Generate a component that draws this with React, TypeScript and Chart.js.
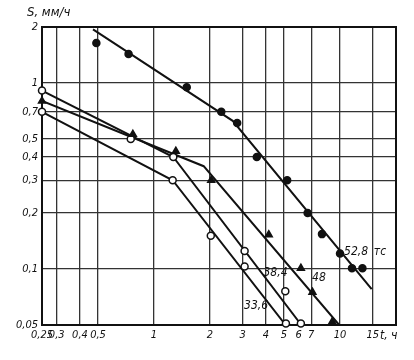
import React, { useEffect, useRef } from "react";
import { Chart, registerables } from "chart.js";

Chart.register(...registerables);

// Axis ticks (log-log)
const xTicks = [0.25, 0.3, 0.4, 0.5, 1, 2, 3, 4, 5, 6, 7, 10, 15, 20];
const xNoGrid = [6];
const yTicks = [0.05, 0.1, 0.2, 0.3, 0.4, 0.5, 0.7, 1, 2];

// 52,8 тс — filled circles
const t528 = [0.49, 0.73, 1.5, 2.3, 2.8, 3.57, 5.2, 6.7, 8.0, 10, 11.6, 13.2];
const s528 = [1.64, 1.43, 0.95, 0.7, 0.61, 0.4, 0.3, 0.2, 0.154, 0.121, 0.101, 0.101];
const fitT528 = [0.47, 2.65, 14.8];
const fitS528 = [1.94, 0.626, 0.078];

// 48 тс — filled triangles
const t48 = [0.25, 0.77, 1.31, 2.03, 4.14, 6.16, 7.11, 9.09];
const s48 = [0.8, 0.53, 0.43, 0.3, 0.153, 0.101, 0.075, 0.052];
const fitT48 = [0.25, 1.85, 9.9];
const fitS48 = [0.8, 0.357, 0.05];

// 38,4 тс — open circles
const t384 = [0.25, 0.75, 1.27, 3.07, 5.08, 6.16];
const s384 = [0.91, 0.5, 0.4, 0.125, 0.076, 0.051];
const fitT384 = [0.25, 1.27, 6.2];
const fitS384 = [0.91, 0.4, 0.05];

// 33,6 тс — open circles
const t336 = [0.25, 1.26, 2.02, 3.07, 5.12];
const s336 = [0.7, 0.3, 0.151, 0.103, 0.051];
const fitT336 = [0.25, 1.26, 5.1];
const fitS336 = [0.7, 0.3, 0.05];

// Curve labels
const curveLabels = ["52,8", "тс", "48", "38,4", "33,6"];
const labelT = [12.2, 16.4, 7.7, 4.5, 3.54];
const labelS = [0.123, 0.123, 0.09, 0.095, 0.063];

const yTitle = "S, мм/ч";
const xTitle = "t, ч";

const FAMILY = '"Liberation Sans Narrow", "DejaVu Sans Condensed", "DejaVu Sans", sans-serif';
const INK = "#111";

const pts = (xs: number[], ys: number[]) => xs.map((x, i) => ({ x, y: ys[i] }));
const fmt = (v: number) => String(v).replace(".", ",");

const lineDs = (xs: number[], ys: number[]) => ({
  data: pts(xs, ys),
  showLine: true,
  borderColor: INK,
  borderWidth: 2,
  pointRadius: 0,
  order: 2,
});

const pointDs = (xs: number[], ys: number[], style: string, filled: boolean, r: number) => ({
  data: pts(xs, ys),
  showLine: false,
  pointStyle: style,
  pointRadius: r,
  pointBackgroundColor: filled ? INK : "#fff",
  pointBorderColor: INK,
  pointBorderWidth: 1.5,
  clip: false,
  order: 0,
});

const decor = {
  id: "decor",
  beforeDatasetsDraw(chart: any) {
    const { ctx, chartArea: a } = chart;
    ctx.save();
    ctx.strokeStyle = INK;
    ctx.lineWidth = 2;
    ctx.strokeRect(a.left, a.top, a.right - a.left, a.bottom - a.top);
    ctx.restore();
  },
  afterDraw(chart: any) {
    const { ctx, chartArea: a } = chart;
    const xs = chart.scales.x;
    const ys = chart.scales.y;
    ctx.save();
    ctx.fillStyle = INK;
    ctx.font = `italic 12px ${FAMILY}`;
    ctx.textAlign = "center";
    ctx.textBaseline = "middle";
    curveLabels.forEach((txt, i) => {
      ctx.fillText(txt, xs.getPixelForValue(labelT[i]), ys.getPixelForValue(labelS[i]));
    });
    ctx.font = `italic 13px ${FAMILY}`;
    ctx.textAlign = "left";
    ctx.fillText(yTitle, 27, 13);
    ctx.font = `italic 12px ${FAMILY}`;
    ctx.fillText(xTitle, 380, a.bottom + 11);
    ctx.restore();
  },
};

export default function App() {
  const ref = useRef<HTMLCanvasElement>(null);
  useEffect(() => {
    if (!ref.current) return;
    const chart = new Chart(ref.current, {
      type: "scatter",
      data: {
        datasets: [
          pointDs(t528, s528, "circle", true, 3.5),
          pointDs(t48, s48, "triangle", true, 4),
          pointDs(t384, s384, "circle", false, 3.5),
          pointDs(t336, s336, "circle", false, 3.5),
          lineDs(fitT528, fitS528),
          lineDs(fitT48, fitS48),
          lineDs(fitT384, fitS384),
          lineDs(fitT336, fitS336),
        ] as any,
      },
      options: {
        animation: false,
        responsive: true,
        maintainAspectRatio: false,
        layout: { padding: { left: 0, top: 27, right: 18, bottom: 0 } },
        plugins: { legend: { display: false }, tooltip: { enabled: false } },
        scales: {
          x: {
            type: "logarithmic",
            min: 0.25,
            max: 20,
            afterBuildTicks: (s: any) => {
              s.ticks = xTicks.map((v) => ({ value: v }));
            },
            afterFit: (s: any) => {
              s.height = 35;
            },
            ticks: {
              autoSkip: false,
              maxRotation: 0,
              padding: 4,
              color: INK,
              font: { family: FAMILY, style: "italic", size: 11 },
              callback: (v: any) => (v === 20 ? "" : fmt(v)),
            },
            grid: {
              drawTicks: false,
              color: (c: any) => (c.tick && xNoGrid.includes(c.tick.value) ? "rgba(0,0,0,0)" : "#333"),
              lineWidth: 1.3,
            },
            border: { display: false },
          },
          y: {
            type: "logarithmic",
            min: 0.05,
            max: 2,
            afterBuildTicks: (s: any) => {
              s.ticks = yTicks.map((v) => ({ value: v }));
            },
            afterFit: (s: any) => {
              s.width = 42;
            },
            ticks: {
              autoSkip: false,
              padding: 4,
              color: INK,
              font: { family: FAMILY, style: "italic", size: 11 },
              callback: (v: any) => fmt(v),
            },
            grid: { drawTicks: false, color: "#333", lineWidth: 1.3 },
            border: { display: false },
          },
        },
      } as any,
      plugins: [decor],
    });
    return () => chart.destroy();
  }, []);
  return (
    <div style={{ position: "fixed", left: 0, top: 0, width: 414, height: 360, background: "#fff" }}>
      <canvas ref={ref} />
    </div>
  );
}
